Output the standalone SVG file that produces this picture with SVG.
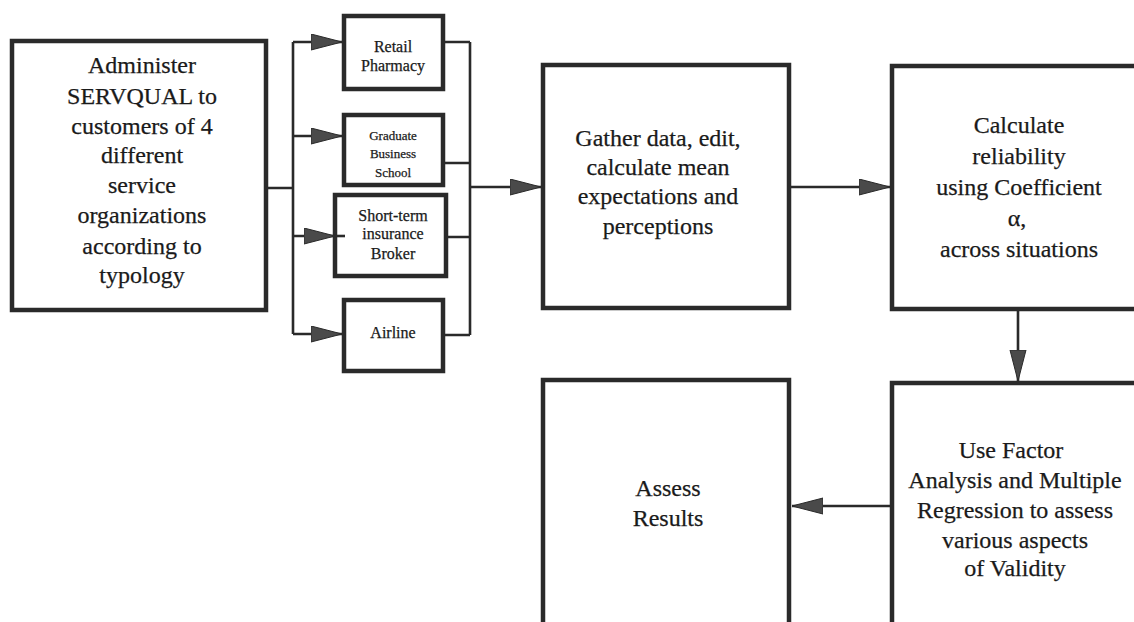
<svg xmlns="http://www.w3.org/2000/svg" width="1134" height="622" viewBox="0 0 1134 622">
  <defs>
    <marker id="arrow" markerUnits="userSpaceOnUse" markerWidth="32" markerHeight="18" refX="31" refY="8.5" orient="auto">
      <path d="M0,0.5 L31,8.5 L0,16.5 Z" fill="#4a4a4a" stroke="#2a2a2a" stroke-width="1"/>
    </marker>
    <style>
      .box { fill: #ffffff; stroke: #2a2a2a; stroke-width: 4.5; }
      .conn { fill: none; stroke: #2a2a2a; stroke-width: 2.6; }
      text { font-family: "Liberation Serif", "DejaVu Serif", serif; fill: #1a1a1a; stroke: #1a1a1a; stroke-width: 0.25; text-anchor: middle; }
      .big { font-size: 24px; }
      .small { font-size: 16px; }
      .tiny { font-size: 13px; }
    </style>
  </defs>

  <rect width="1134" height="622" fill="#ffffff"/>

  <!-- Step 1: administer survey -->
  <g id="administer">
    <rect class="box" x="12" y="41" width="254" height="269"/>
    <text class="big" x="142" y="73">Administer</text>
    <text class="big" x="142" y="104">SERVQUAL to</text>
    <text class="big" x="142" y="134">customers of 4</text>
    <text class="big" x="142" y="163">different</text>
    <text class="big" x="142" y="193">service</text>
    <text class="big" x="142" y="223">organizations</text>
    <text class="big" x="142" y="254">according to</text>
    <text class="big" x="142" y="283">typology</text>
  </g>

  <!-- The four service organizations -->
  <g id="retail-pharmacy">
    <rect class="box" x="344" y="16" width="99" height="73"/>
    <text class="small" x="393" y="52">Retail</text>
    <text class="small" x="393" y="71">Pharmacy</text>
  </g>
  <g id="graduate-business-school">
    <rect class="box" x="344" y="115" width="99" height="70"/>
    <text class="tiny" x="393" y="140">Graduate</text>
    <text class="tiny" x="393" y="158">Business</text>
    <text class="tiny" x="393" y="177">School</text>
  </g>
  <g id="insurance-broker">
    <rect class="box" x="335" y="195" width="111" height="81"/>
    <text class="small" x="393" y="221">Short-term</text>
    <text class="small" x="393" y="239">insurance</text>
    <text class="small" x="393" y="259">Broker</text>
  </g>
  <g id="airline">
    <rect class="box" x="344" y="300" width="99" height="71"/>
    <text class="small" x="393" y="338">Airline</text>
  </g>

  <!-- Step 2: gather data -->
  <g id="gather-data">
    <rect class="box" x="543" y="65" width="246" height="243"/>
    <text class="big" x="658" y="146">Gather data, edit,</text>
    <text class="big" x="658" y="175">calculate mean</text>
    <text class="big" x="658" y="204">expectations and</text>
    <text class="big" x="658" y="234">perceptions</text>
  </g>

  <!-- Step 3: reliability -->
  <g id="reliability">
    <rect class="box" x="892" y="66" width="260" height="243"/>
    <text class="big" x="1019" y="133">Calculate</text>
    <text class="big" x="1019" y="164">reliability</text>
    <text class="big" x="1019" y="195">using Coefficient</text>
    <text class="big" x="1017" y="226">α,</text>
    <text class="big" x="1019" y="257">across situations</text>
  </g>

  <!-- Step 4: validity -->
  <g id="validity">
    <rect class="box" x="892" y="383" width="260" height="260"/>
    <text class="big" x="1011" y="458">Use Factor</text>
    <text class="big" x="1015" y="488">Analysis and Multiple</text>
    <text class="big" x="1015" y="518">Regression to assess</text>
    <text class="big" x="1015" y="548">various aspects</text>
    <text class="big" x="1015" y="576">of Validity</text>
  </g>

  <!-- Step 5: results -->
  <g id="assess-results">
    <rect class="box" x="543" y="380" width="246" height="260"/>
    <text class="big" x="668" y="496">Assess</text>
    <text class="big" x="668" y="526">Results</text>
  </g>

  <!-- Connectors -->
  <g id="connectors">
    <!-- fan-out to the four organizations -->
    <path class="conn" d="M266,188 H293 M293,42 V334"/>
    <path class="conn" d="M293,42 H342" marker-end="url(#arrow)"/>
    <path class="conn" d="M293,136 H342" marker-end="url(#arrow)"/>
    <path class="conn" d="M293,236 H335" marker-end="url(#arrow)"/>
    <path class="conn" d="M335,236 H345"/>
    <path class="conn" d="M293,334 H342" marker-end="url(#arrow)"/>
    <!-- fan-in to data gathering -->
    <path class="conn" d="M445,42 H470 M445,163 H470 M448,237 H470 M445,335 H470 M470,42 V335"/>
    <path class="conn" d="M470,187 H541" marker-end="url(#arrow)"/>
    <!-- main flow -->
    <path class="conn" d="M791,187 H890" marker-end="url(#arrow)"/>
    <path class="conn" d="M1018,311 V381" marker-end="url(#arrow)"/>
    <path class="conn" d="M890,506 H792" marker-end="url(#arrow)"/>
  </g>
</svg>
